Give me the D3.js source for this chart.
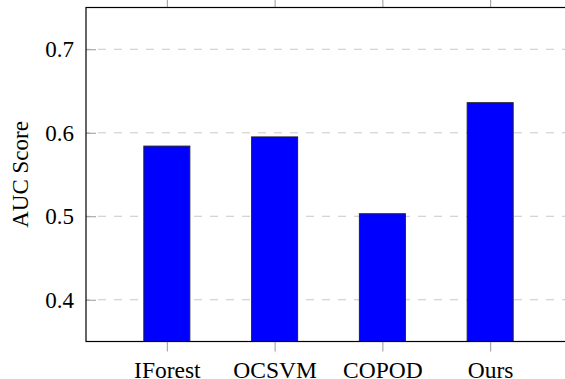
<!DOCTYPE html>
<html>
<head>
<meta charset="utf-8">
<script src="https://cdn.jsdelivr.net/npm/d3@7"></script>
<style>
  body { margin: 0; background: #fff; }
  svg { display: block; }
</style>
</head>
<body>
<svg></svg>
<script>
const w = 565;
const h = 379;

const methods = ['IForest', 'OCSVM', 'COPOD', 'Ours'];
const aucScores = [0.584, 0.595, 0.503, 0.636];
const yTicks = [0.4, 0.5, 0.6, 0.7];

const mLeft = 86;
const mRight = 571;
const mTop = 7.5;
const mBottom = 341.5;
const serif = "'Liberation Serif', 'Times New Roman', serif";

const svg = d3.select('svg').attr('width', w).attr('height', h);

const xScale = d3.scalePoint().domain(methods).range([mLeft, mRight]).padding(0.75);
const yScale = d3.scaleLinear().domain([0.35, 0.75]).range([mBottom, mTop]);
const barW = 46;

// grid
svg.append('g')
  .selectAll('line')
  .data(yTicks)
  .enter()
  .append('line')
  .attr('x1', mLeft)
  .attr('x2', mRight)
  .attr('y1', d => yScale(d))
  .attr('y2', d => yScale(d))
  .attr('stroke', '#c8c8c8')
  .attr('stroke-width', 1)
  .attr('stroke-dasharray', '8,8')
  .attr('stroke-dashoffset', -12);

// y ticks (inside)
const yAxis = d3.axisLeft(yScale).tickValues(yTicks).tickFormat(d3.format('.1f')).tickSize(-10).tickPadding(12);
const gy = svg.append('g').attr('transform', `translate(${mLeft},0)`).call(yAxis);
gy.select('.domain').remove();
gy.selectAll('.tick line').attr('stroke', '#999');
gy.selectAll('.tick text')
  .style('font-family', serif)
  .style('font-weight', 'normal')
  .style('font-size', '23px')
  .style('fill', '#000');

// bars
svg.append('g')
  .selectAll('rect')
  .data(aucScores)
  .enter()
  .append('rect')
  .attr('x', (d, i) => xScale(methods[i]) - barW / 2)
  .attr('y', d => yScale(d))
  .attr('width', barW)
  .attr('height', d => mBottom - yScale(d))
  .attr('fill', '#0000ff')
  .attr('stroke', '#222')
  .attr('stroke-width', 1);

// x ticks bottom
const xAxis = d3.axisBottom(xScale).tickSize(10).tickPadding(10);
const gx = svg.append('g').attr('transform', `translate(0,${mBottom})`).call(xAxis);
gx.select('.domain').remove();
gx.selectAll('.tick line').attr('stroke', '#999');
gx.selectAll('.tick text')
  .style('font-family', serif)
  .style('font-weight', 'normal')
  .style('font-size', '23.5px')
  .style('fill', '#000');

// x ticks top
const xTop = d3.axisTop(xScale).tickSize(10).tickFormat('');
const gt = svg.append('g').attr('transform', `translate(0,${mTop})`).call(xTop);
gt.select('.domain').remove();
gt.selectAll('.tick line').attr('stroke', '#999');

// frame
svg.append('rect')
  .attr('x', mLeft)
  .attr('y', mTop)
  .attr('width', mRight - mLeft)
  .attr('height', mBottom - mTop)
  .attr('fill', 'none')
  .attr('stroke', '#000')
  .attr('stroke-width', 1.2);

// y label
svg.append('text')
  .text('AUC Score')
  .attr('transform', `translate(28,${(mTop + mBottom) / 2}) rotate(-90)`)
  .attr('text-anchor', 'middle')
  .style('font-family', serif)
  .style('font-size', '23px')
  .attr('fill', '#000');
</script>
</body>
</html>
